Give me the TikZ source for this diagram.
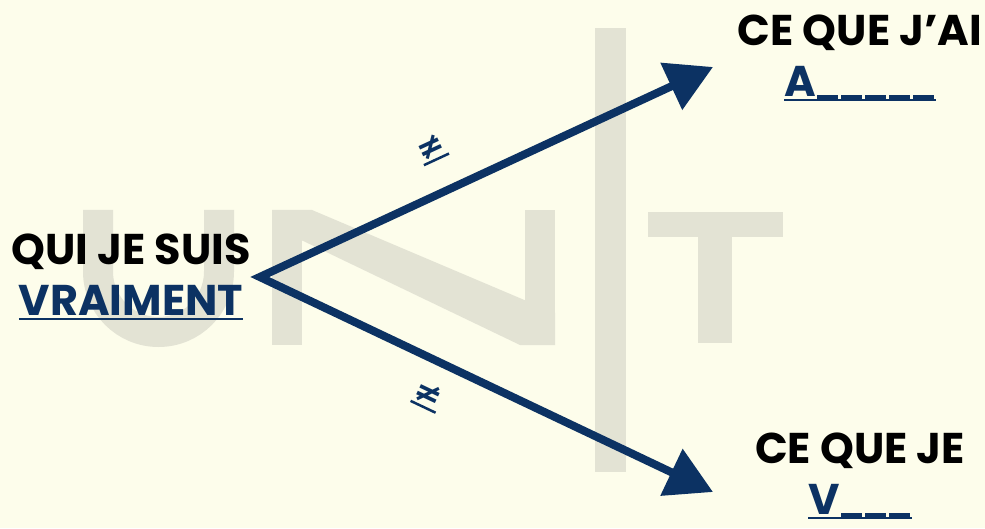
\documentclass[tikz,border=0pt]{standalone}
\usepackage{fontspec}
\setmainfont{Poppins}
\newfontfamily\symfont{DejaVu Sans}
\definecolor{UNavy}{HTML}{0C3263}
\definecolor{UCream}{HTML}{FDFDEB}
\definecolor{UGrey}{HTML}{E3E3D4}
\usetikzlibrary{positioning,arrows.meta}
\newcommand{\navyline}[1]{\setbox0\hbox{#1}\rlap{\rule[-4.5pt]{\wd0}{2.5pt}}\box0}
\newcommand{\blank}{\kern1.5pt\rule[-3pt]{21pt}{4.5pt}\kern1.5pt}

\begin{document}
\begin{tikzpicture}[x=1pt, y=1pt, font=\bfseries,
    big/.style={align=center, inner sep=0pt, font=\fontsize{43}{51}\selectfont\bfseries},
    neq/.style={sloped, inner sep=0pt, text=UNavy, font=\symfont\fontsize{33}{33}\selectfont\bfseries},
    bighead/.tip={Triangle[length=46pt, width=50pt]}]
      \fill[UCream] (0,0) rectangle (985,528);
      \useasboundingbox (0,0) rectangle (985,528);
      \draw[UGrey, line width=30pt] (98,318) -- (98,256.5) arc[start angle=180, end angle=360, radius=60.5] -- (219,318);
      \fill[UGrey] (272,318) rectangle (302,183);
      \fill[UGrey] (525,318) rectangle (555,183);
      \fill[UGrey] (272,318) -- (312,318) -- (555,215) -- (555,183) -- (520,183) -- (272,302) -- cycle;
      \fill[UGrey] (595,500) rectangle (626,56);
      \fill[UGrey] (648,316) rectangle (783,291);
      \fill[UGrey] (698,316) rectangle (732,185);
      \node[big] (q) at (131,251) {QUI JE SUIS\\\textcolor{UNavy}{\navyline{VRAIMENT}}};
      \node[big] (a) at (860,470) {CE QUE J’AI\\\textcolor{UNavy}{\navyline{A\blank\blank\blank\blank\blank}}};
      \node[big] (v) at (860,52) {CE QUE JE\\\textcolor{UNavy}{\navyline{V\blank\blank\blank}}};
      \coordinate[right=9pt of q.east] (o);
      \coordinate (ta) at (713,461);
      \coordinate (tv) at (713,36);
      \draw[UNavy, line width=8pt, line join=miter, {bighead}-{bighead}] (ta) -- (o) -- (tv);
      \path (o) -- node[neq, pos=0.42, above=31pt] {\navyline{≠}} (ta);
      \path (o) -- node[neq, pos=0.405, below=23pt] {\navyline{≠}} (tv);
    \end{tikzpicture}
\end{document}
